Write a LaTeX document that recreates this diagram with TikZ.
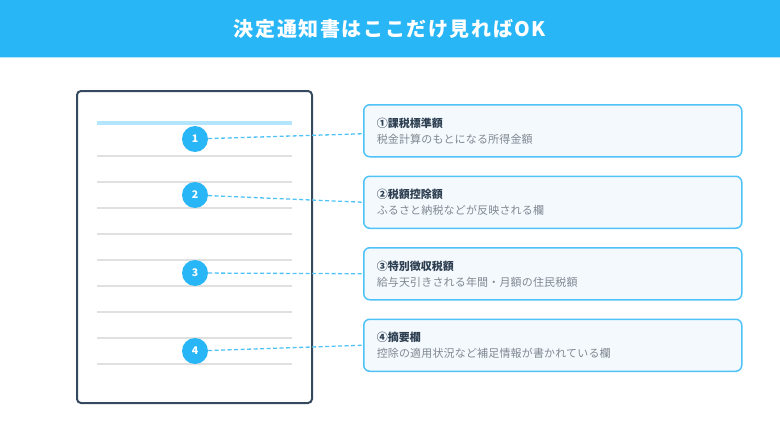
\documentclass[tikz,border=0pt]{standalone}
\usepackage{fontspec}
\setmainfont{Noto Sans CJK JP}
\usetikzlibrary{positioning}

\definecolor{headblue}{HTML}{29B6F6}
\definecolor{linkblue}{HTML}{4FC3F7}
\definecolor{boxfill}{HTML}{F4F9FE}
\definecolor{paleblue}{HTML}{B3E5FC}
\definecolor{docline}{HTML}{34495E}
\definecolor{rulegray}{HTML}{E0E0E0}
\definecolor{titledark}{HTML}{2C3E50}
\definecolor{subgray}{HTML}{808890}

\newcommand{\itemtext}[2]{%
  {\fontsize{11}{14}\selectfont\bfseries\color{titledark}#1}\\[4pt]%
  {\fontsize{11}{14}\selectfont\addfontfeatures{LetterSpace=1.5}\color{subgray}#2}}

\begin{document}
\begin{tikzpicture}[
            x=1pt, y=-1pt,
            node distance=18pt,
            box/.style={
                draw=linkblue,
                line width=1.5pt,
                fill=boxfill,
                rounded corners=6pt,
                minimum width=378pt,
                minimum height=52pt,
                text width=352pt,
                inner xsep=13pt,
                align=left
            },
            num/.style={
                circle,
                fill=headblue,
                minimum size=26pt,
                inner sep=0pt,
                text=white,
                font=\fontsize{10.5}{12}\selectfont\bfseries
            },
            rule/.style={draw=rulegray, line width=2.5pt},
            link/.style={draw=linkblue, dash pattern=on 4pt off 2.5pt, line width=1.3pt}
        ]
        \useasboundingbox (0,0) rectangle (780,439);

        % header
        \fill[headblue] (0,0) rectangle (780,57);
        \draw[paleblue, line width=1pt] (0,57.5) -- (780,57.5);
        \node[text=white, font=\fontsize{20}{22}\selectfont\bfseries\addfontfeatures{LetterSpace=8}] (title) at (390,29) {決定通知書はここだけ見ればOK};

        % document
        \draw[docline, line width=2pt, fill=white, rounded corners=4pt] (77,91) rectangle (312,403);
        \draw[draw=paleblue, line width=4pt] (97,123) -- (292,123);
        \foreach \y in {156,182,...,364}
            \draw[rule] (97,\y) -- (292,\y);

        \node[num] (n1) at (195,139) {1};
        \node[num] (n2) at (195,195) {2};
        \node[num] (n3) at (195,273) {3};
        \node[num] (n4) at (195,351) {4};

        % explanation boxes
        \node[box, anchor=north west] (item1) at (363,104) {\itemtext{①課税標準額}{税金計算のもとになる所得金額}};
        \node[box, below=of item1] (item2) {\itemtext{②税額控除額}{ふるさと納税などが反映される欄}};
        \node[box, below=of item2] (item3) {\itemtext{③特別徴収税額}{給与天引きされる年間・月額の住民税額}};
        \node[box, below=of item3] (item4) {\itemtext{④摘要欄}{控除の適用状況など補足情報が書かれている欄}};

        \draw[link] (n1) -- ([yshift=-3pt]item1.west);
        \draw[link] (n2) -- (item2.west);
        \draw[link] (n3) -- (item3.west);
        \draw[link] (n4) -- (item4.west);
        \end{tikzpicture}
\end{document}
